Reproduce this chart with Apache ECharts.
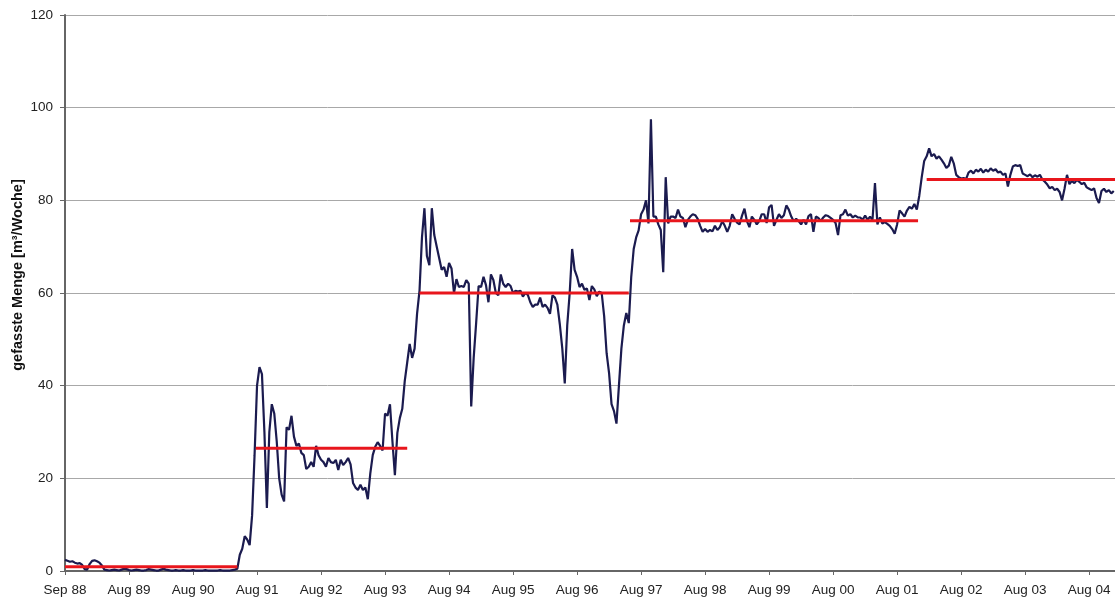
<!DOCTYPE html>
<html><head><meta charset="utf-8">
<script src="https://cdn.jsdelivr.net/npm/echarts@6/dist/echarts.min.js"></script>
<style>html,body{margin:0;padding:0;background:#fff}#c{width:1115px;height:601px}</style>
</head><body><div id="c"></div>
<script>
// weekly series sampled every 2 weeks, starting Sep 88
const weekStep = 2;
const values = [
2.4,2.2,2.0,2.1,1.8,1.6,1.7,1.3,0.4,0.3,1.5,2.2,2.3,2.1,1.8,1.2,0.3,
0.2,0.1,0.2,0.3,0.2,0.1,0.3,0.5,0.4,0.2,
0.1,0.2,0.3,0.2,0.1,0.1,0.2,0.4,0.3,0.2,
0.1,0.1,0.3,0.5,0.3,0.2,0.1,0.1,0.2,0.1,
0.1,0.2,0.1,0.1,0.1,0.2,0.1,0.1,0.1,0.1,
0.2,0.1,0.1,0.1,0.1,0.1,0.2,0.1,0.1,0.1,
0.1,0.2,0.3,0.5,
3.5,4.8,7.5,6.8,5.6,12,25,40,44,42.5,
30,13.6,30,36,34,28,20,16.5,15,31,
30.5,33.5,29,27,27.5,25.5,25,22,22.5,23.5,
22.5,27,25,24,23.5,22.5,24.4,23.5,23.3,24,
21.8,24,22.9,23.5,24.4,23,19,18,17.5,18.6,
17.5,18,15.5,21,25,26.8,27.8,27,26,34,
33.5,36,28,20.7,29.8,33,35,41,45,49,
46,48,55.5,60.5,72,78.3,68,66,78.3,72.5,
70,67.5,65,65.6,63.5,66.5,65.3,60,63,61.3,
61.5,61.3,62.8,62,35.5,46,53.5,61.5,61.3,63.5,
61.7,58,64,62.8,60,59.5,64,62,61.3,62,
61.5,60,60.5,60.3,60.5,59.2,60,59.6,58,57,
57.5,57.5,59,57,57.5,56.8,55.5,59.5,59,57.5,
53.2,48,40.5,53,60,69.5,65,63.5,61.3,62,
60.7,61,58.5,61.5,60.8,59.3,60.3,60,55,47,
42.7,36,34.5,31.8,40,48,53,55.7,53.5,63.5,
69.5,72,73.5,77,78,80,75,97.5,76.5,76.5,
74.8,73.6,64.5,85,75,76.5,76.5,76.2,78,76.5,
76.2,74.2,75.8,76.5,77,76.8,76,74.5,73.2,73.8,
73.2,73.6,73.3,74.5,73.6,74.2,75.5,74.5,73.2,74.5,
77,76,75.2,74.8,76.7,78.2,75.5,74.2,76.5,75.8,
74.8,75.5,77,77,75.1,78.5,79,74.5,75.8,77,
76.2,76.8,78.9,78,76.5,75.5,76,75.5,74.8,75.8,
74.8,76.6,77,73.2,76.5,76.2,75.5,76.3,76.8,76.6,
76.2,75.8,75.1,72.5,76.8,77,78,76.7,77,76.3,
76.7,76.3,76.3,75.8,76.7,75.8,76.5,75.8,83.7,74.8,
76.3,75,75.3,74.9,74.5,73.8,72.8,74.8,77.8,77.2,
76.5,77.8,78.6,78.2,79.2,78,
81,85,88.5,89.5,
91.2,89.5,90,89,89.5,88.8,88,87,87.5,89.4,
88,85.5,85,84.7,84.8,84.6,86,86.4,85.8,86.6,
86.2,86.8,86,86.6,86.2,86.9,86.4,86.7,86,86.2,
85.5,85.8,83,85.5,87.3,87.6,87.4,87.6,85.8,85.5,
85.2,85.6,85,85.4,85.1,85.5,84.5,84,83.4,82.6,
82.9,82.2,82.5,81.8,80,82.5,85.5,83.5,84.2,83.7,
84.4,84,83.5,83.8,82.8,82.5,82.2,82.6,80.5,79.4,
82,82.5,81.8,82.2,81.5,82
];
// mean levels (weeks from Sep 88)
const meanStart = [0, 155, 288, 459, 700];
const meanEnd   = [140, 278, 458, 693, 853];
const meanLevel = [0.9, 26.5, 60, 75.6, 84.5];
const tickLabels = ["Sep 88","Aug 89","Aug 90","Aug 91","Aug 92","Aug 93","Aug 94","Aug 95","Aug 96","Aug 97","Aug 98","Aug 99","Aug 00","Aug 01","Aug 02","Aug 03","Aug 04"];
const yTitle = "gefasste Menge [m³/Woche]";

const lineData = values.map((v,i)=>[i*weekStep, v]);
const meanSeries = meanLevel.map((lv,k)=>({
  type:'line', data:[[meanStart[k],lv],[meanEnd[k],lv]], symbol:'none',
  lineStyle:{color:'#e8161c', width:3}, z:3, silent:true
}));
const FONT = 'Liberation Sans, Arial, sans-serif';
const chart = echarts.init(document.getElementById('c'), null, {renderer:'canvas'});
chart.setOption({
  animation:false,
  backgroundColor:'#fff',
  grid:{left:65, right:0, top:15, bottom:30, containLabel:false},
  graphic:[{type:'text', x:18, y:275, rotation:Math.PI/2,
    style:{text:yTitle, font:'bold 14.5px ' + FONT, fill:'#111', align:'center', verticalAlign:'middle'}}],
  xAxis:{type:'value', min:0, max:853, interval:52,
    axisLine:{show:true, lineStyle:{color:'#666', width:2}},
    axisTick:{show:true, length:4, lineStyle:{color:'#666'}},
    splitLine:{show:false},
    axisLabel:{margin:12, fontFamily:FONT, fontSize:13.5, color:'#222',
      showMaxLabel:false,
      formatter:(v)=>tickLabels[Math.round(v/52)] || ''}
  },
  yAxis:{type:'value', min:0, max:120, interval:20,
    axisLine:{show:true, lineStyle:{color:'#666', width:2}},
    axisTick:{show:true, inside:false, length:5, lineStyle:{color:'#666'}},
    splitLine:{show:true, lineStyle:{color:'#a8a8a8', width:1}},
    axisLabel:{margin:12, fontFamily:FONT, fontSize:13.5, color:'#222'}
  },
  series:[{type:'line', data:lineData, symbol:'none', lineStyle:{color:'#1b1b4f', width:2.2}, z:2, silent:true}].concat(meanSeries)
});
</script></body></html>
